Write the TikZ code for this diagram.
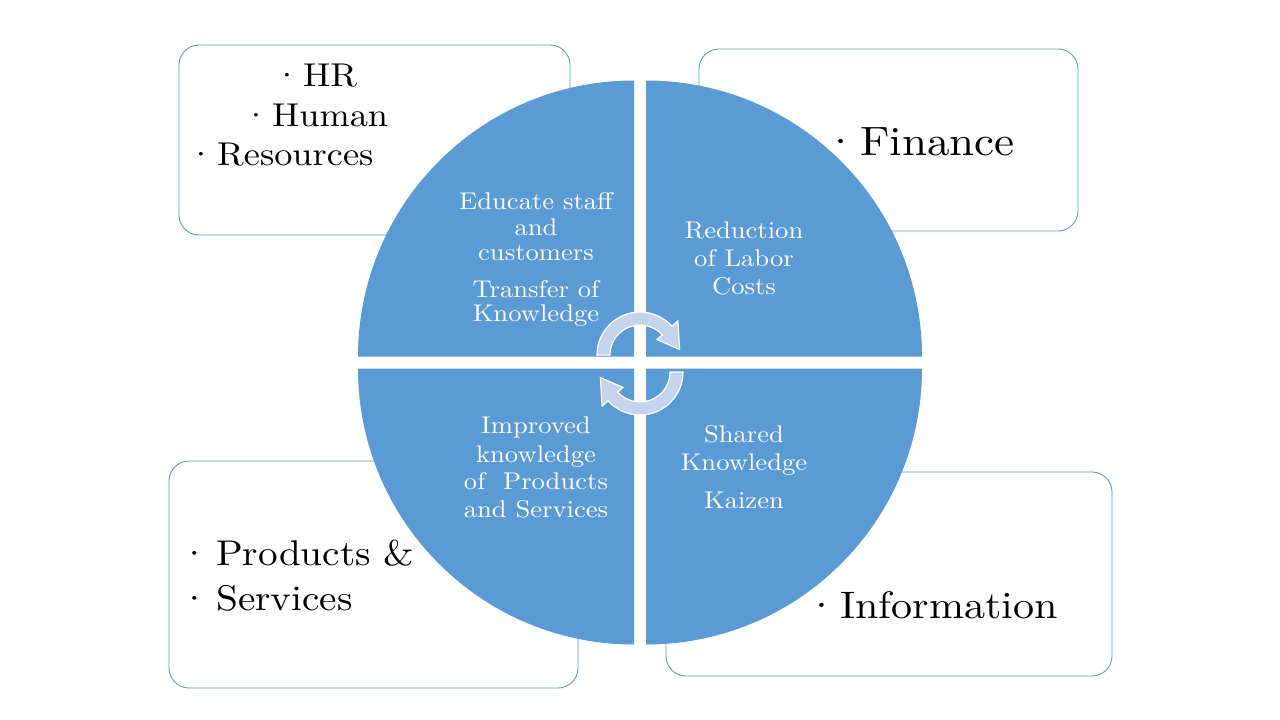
\documentclass[tikz,border=0pt]{standalone}
\usepackage{fontspec}
\setmainfont{lmroman10-regular}[Extension=.otf, FakeStretch=1.1]
\usetikzlibrary{calc}
\definecolor{quadblue}{RGB}{91,155,213}
\definecolor{turnblue}{RGB}{196,212,237}
\newcommand{\dotitem}[2]{\llap{\textperiodcentered\kern#1}#2}
\begin{document}
\begin{tikzpicture}[x=1pt, y=-1pt,
  box/.style={draw=quadblue, line width=0.9pt, rounded corners=20pt, fill=white, inner sep=0pt},
  quad/.style={fill=quadblue},
  qtext/.style={text=white, anchor=base, inner sep=0pt, font=\fontsize{24.2}{28}\selectfont},
  btext/.style={anchor=base west, inner sep=0pt},
  turn/.style={fill=turnblue, draw=white, line width=1.2pt}]
\fill[white] (0,0) rectangle (1280,720);
\useasboundingbox (0,0) rectangle (1280,720);
% Boxes behind the circle
\node[box, minimum width=391pt, minimum height=190pt] (hrbox) at (374.5,140) {};
\node[box, minimum width=379pt, minimum height=182pt] (finbox) at (888.5,140) {};
\node[box, minimum width=409pt, minimum height=227pt] (prodbox) at (373.5,574.5) {};
\node[box, minimum width=446pt, minimum height=204pt] (infobox) at (889,574) {};
% Circle in four quarters
\coordinate (mid) at (640,362.5);
\fill[quad] ($(mid)+(-6,-6)$) -- ++(-276,0) arc[start angle=180, end angle=270, radius=276] -- cycle;
\fill[quad] ($(mid)+(6,-6)$) -- ++(0,-276) arc[start angle=270, end angle=360, radius=276] -- cycle;
\fill[quad] ($(mid)+(6,6)$) -- ++(276,0) arc[start angle=0, end angle=90, radius=276] -- cycle;
\fill[quad] ($(mid)+(-6,6)$) -- ++(0,276) arc[start angle=90, end angle=180, radius=276] -- cycle;
% Texts in the quarters
\node[qtext] (edu1) at (536,209) {Educate staff};
\node[qtext] (edu2) at (536,235) {and};
\node[qtext] (edu3) at (536,260) {customers};
\node[qtext] (tra1) at (536,297) {Transfer of};
\node[qtext] (tra2) at (536,321) {Knowledge};
\node[qtext] (red1) at (744,238) {Reduction};
\node[qtext] (red2) at (744,266) {of Labor};
\node[qtext] (red3) at (744,294) {Costs};
\node[qtext] (imp1) at (536,433) {Improved};
\node[qtext] (imp2) at (536,462) {knowledge};
\node[qtext] (imp3) at (536,489) {of\ \ Products};
\node[qtext] (imp4) at (536,517) {and Services};
\node[qtext] (sha1) at (744,442) {Shared};
\node[qtext] (sha2) at (744,470) {Knowledge};
\node[qtext] (kai) at (744,508) {Kaizen};
% Turning arrows in the middle
\coordinate (ca) at (640,355);
\coordinate (cb) at (640,372);
\draw[turn] ($(ca)+(180:43)$) arc[start angle=180, end angle=318, radius=43]
  -- ($(ca)+(318:51)$) -- ($(ca)+(352:40)$) -- ($(ca)+(318:23)$) -- ($(ca)+(318:30)$)
  arc[start angle=318, end angle=180, radius=30] -- cycle;
\draw[turn] ($(cb)+(0:43)$) arc[start angle=0, end angle=138, radius=43]
  -- ($(cb)+(138:51)$) -- ($(cb)+(172:40)$) -- ($(cb)+(138:23)$) -- ($(cb)+(138:30)$)
  arc[start angle=138, end angle=0, radius=30] -- cycle;
% Texts in the boxes
\node[btext, font=\fontsize{33}{40}\selectfont] (hr) at (303,86) {\dotitem{2pt}{HR}};
\node[btext, font=\fontsize{33}{40}\selectfont] (human) at (272,126) {\dotitem{2pt}{Human}};
\node[btext, font=\fontsize{33}{40}\selectfont] (res) at (217,165) {\dotitem{2pt}{Resources}};
\node[btext, font=\fontsize{41}{50}\selectfont] (fin) at (860,155) {\dotitem{2pt}{Finance}};
\node[btext, font=\fontsize{35.7}{45}\selectfont] (prod) at (216,565) {\dotitem{6pt}{Products \&}};
\node[btext, font=\fontsize{35.7}{45}\selectfont] (serv) at (216,610) {\dotitem{6pt}{Services}};
\node[btext, font=\fontsize{38.3}{46}\selectfont] (info) at (840,618) {\dotitem{2pt}{Information}};
\end{tikzpicture}
\end{document}
